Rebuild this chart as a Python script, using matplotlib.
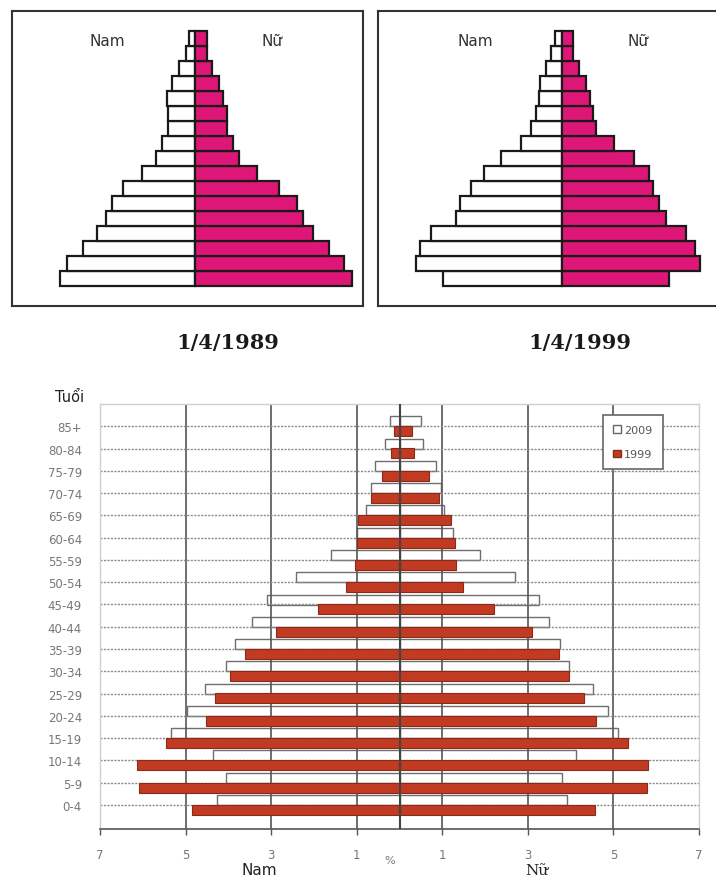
import numpy as np
import matplotlib
matplotlib.use("Agg")
import matplotlib.pyplot as plt
from matplotlib.patches import Patch

# ---- data: top pyramids (0-4 ... 80+, arbitrary % units)
nam_1989 = [6.75, 6.38, 5.62, 4.90, 4.45, 4.15, 3.58, 2.67, 1.95, 1.63, 1.33, 1.33, 1.42, 1.17, 0.78, 0.47, 0.32]
nu_1989 = [7.87, 7.47, 6.70, 5.88, 5.42, 5.08, 4.22, 3.08, 2.22, 1.88, 1.58, 1.62, 1.42, 1.20, 0.87, 0.62, 0.62]
nam_1999a = [5.95, 7.28, 7.12, 6.53, 5.28, 5.08, 4.57, 3.92, 3.03, 2.03, 1.57, 1.28, 1.17, 1.08, 0.82, 0.53, 0.33]
nu_1999a = [5.35, 6.88, 6.63, 6.22, 5.18, 4.85, 4.55, 4.35, 3.58, 2.60, 1.72, 1.55, 1.38, 1.18, 0.83, 0.55, 0.55]

# ---- data: bottom chart (%)
ages = ['0-4', '5-9', '10-14', '15-19', '20-24', '25-29', '30-34', '35-39', '40-44',
        '45-49', '50-54', '55-59', '60-64', '65-69', '70-74', '75-79', '80-84', '85+']
nam_2009 = [4.27, 4.05, 4.36, 5.35, 4.96, 4.54, 4.05, 3.84, 3.45, 3.09, 2.43, 1.60, 1.00, 0.78, 0.66, 0.57, 0.33, 0.22]
nam_1999 = [4.85, 6.10, 6.13, 5.45, 4.53, 4.32, 3.96, 3.60, 2.88, 1.91, 1.26, 1.03, 1.00, 0.97, 0.66, 0.40, 0.19, 0.14]
nu_2009 = [3.92, 3.80, 4.12, 5.11, 4.88, 4.53, 3.96, 3.74, 3.49, 3.27, 2.71, 1.89, 1.24, 1.03, 0.98, 0.85, 0.54, 0.50]
nu_1999 = [4.57, 5.78, 5.80, 5.35, 4.60, 4.31, 3.96, 3.73, 3.10, 2.21, 1.49, 1.31, 1.29, 1.21, 0.92, 0.69, 0.35, 0.29]
xticks = [-7, -5, -3, -1, 1, 3, 5, 7]
xlabels = ['7', '5', '3', '1', '1', '3', '5', '7']

W, H = 716, 878
fig = plt.figure(figsize=(W / 100, H / 100), dpi=100)

PINK = '#DE1677'
RED = '#C23A22'


def px_axes(x0, y0, x1, y1):
    return fig.add_axes([x0 / W, 1 - y1 / H, (x1 - x0) / W, (y1 - y0) / H])


def pyramid(ax, nam, nu, xlim):
    y = np.arange(len(nam))
    ax.barh(y, -np.array(nam), height=1, color='white', edgecolor='#1a1a1a', linewidth=1.6)
    ax.barh(y, nu, height=1, color=PINK, edgecolor='#1a1a1a', linewidth=1.6)
    ax.set_xlim(*xlim)
    ax.set_ylim(-1.83, 17.83)
    ax.set_xticks([])
    ax.set_yticks([])
    for s in ax.spines.values():
        s.set_color('#333333')
        s.set_linewidth(1.5)


ax1 = px_axes(12, 12, 363, 307)
pyramid(ax1, nam_1989, nu_1989, (-9.15, 8.4))
ax2 = px_axes(378, 12, 716, 307)
pyramid(ax2, nam_1999a, nu_1999a, (-9.2, 7.7))
ax2.spines['right'].set_visible(False)

for cx_nam, cx_nu in [(107, 272), (475, 638)]:
    fig.text(cx_nam / W, 1 - 41 / H, 'Nam', ha='center', va='center', fontsize=11, color='#333333')
    fig.text(cx_nu / W, 1 - 41 / H, 'Nữ', ha='center', va='center', fontsize=11, color='#333333')

fig.text(228 / W, 1 - 343 / H, '1/4/1989', ha='center', va='center', fontsize=15,
         fontweight='bold', family='DejaVu Serif', color='#1a1a1a')
fig.text(580 / W, 1 - 343 / H, '1/4/1999', ha='center', va='center', fontsize=15,
         fontweight='bold', family='DejaVu Serif', color='#1a1a1a')

# ---- bottom chart
ax = px_axes(100, 405, 699, 830)
y = np.arange(len(ages))
off, h = 0.22, 0.45
# white 2009 bars sit under the grid, red 1999 bars over it
ax.barh(y + off, -np.array(nam_2009), height=h, color='white', edgecolor='#6e6e6e', linewidth=1, zorder=0.5)
ax.barh(y + off, nu_2009, height=h, color='white', edgecolor='#6e6e6e', linewidth=1, zorder=0.5)
ax.barh(y - off, -np.array(nam_1999), height=h, color=RED, edgecolor='#8a2a18', linewidth=0.8, zorder=4)
ax.barh(y - off, nu_1999, height=h, color=RED, edgecolor='#8a2a18', linewidth=0.8, zorder=4)

for v in [-5, -3, -1, 1, 3, 5]:
    ax.axvline(v, color='#555555', lw=1.2, zorder=1)
for yy in y:
    ax.axhline(yy, color='#8a8a8a', lw=1, ls=(0, (1.5, 1)), zorder=1)
ax.axvline(0, color='#444444', lw=1.5, zorder=5)

ax.set_xlim(-7, 7)
ax.set_ylim(-1.08, 18)
ax.set_xticks(xticks)
ax.set_xticklabels(xlabels)
ax.set_yticks(y)
ax.set_yticklabels(ages)
ax.tick_params(axis='x', length=4, width=1, color='#555555', labelsize=8.5, labelcolor='#777777', pad=10)
ax.tick_params(axis='y', length=0, labelsize=8.5, labelcolor='#777777', pad=13)
for side in ['left', 'top', 'right']:
    ax.spines[side].set_color('#cfcfcf')
    ax.spines[side].set_linewidth(1)
ax.spines['bottom'].set_color('#555555')
ax.spines['bottom'].set_linewidth(1.2)

handles = [Patch(facecolor='white', edgecolor='#666666', label='2009'),
           Patch(facecolor=RED, edgecolor='#8a2a18', label='1999')]
leg = ax.legend(handles=handles, loc='upper left', bbox_to_anchor=(0.84, 0.974), fontsize=8,
                frameon=True, fancybox=False, edgecolor='#666666', framealpha=1,
                handlelength=0.7, handleheight=0.7, handletextpad=0.3, labelspacing=1.3,
                borderpad=0.9, borderaxespad=0)
leg.get_frame().set_linewidth(1.2)
for t in leg.get_texts():
    t.set_color('#555555')
leg.set_zorder(10)

fig.text(70 / W, 1 - 398 / H, 'Tuổi', ha='center', va='center', fontsize=10.5, color='#222222')
fig.text(259 / W, 1 - 871 / H, 'Nam', ha='center', va='center', fontsize=11, color='#222222')
fig.text(537 / W, 1 - 871 / H, 'Nữ', ha='center', va='center', fontsize=11, color='#222222',
         family='DejaVu Serif')
fig.text(390 / W, 1 - 861 / H, '%', ha='center', va='center', fontsize=8, color='#777777')

fig.savefig('out.png', dpi=100)
